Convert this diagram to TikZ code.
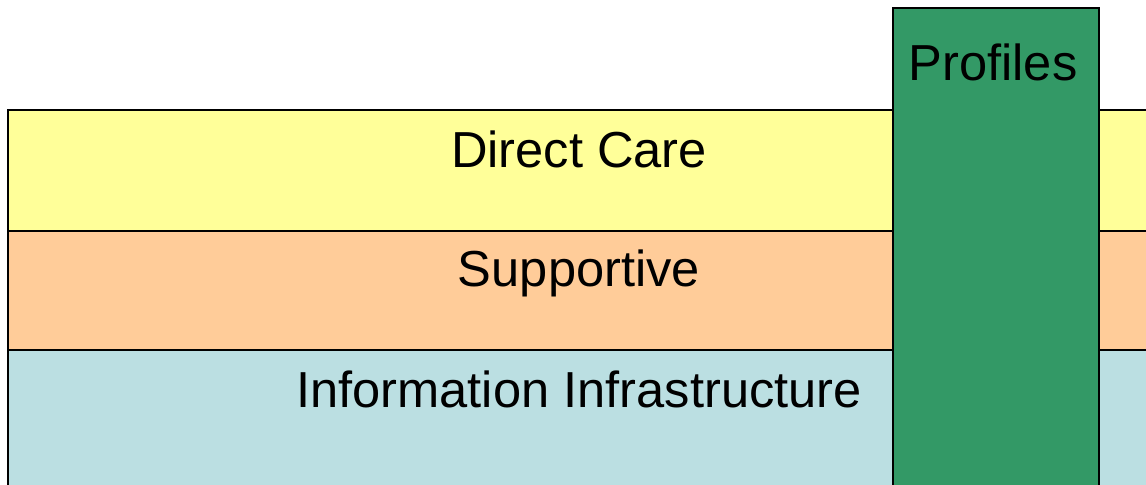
\documentclass[tikz,border=0pt]{standalone}
\usepackage{fontspec}
\setmainfont{Liberation Sans}
\definecolor{careyellow}{HTML}{FFFF99}
\definecolor{supportorange}{HTML}{FFCC99}
\definecolor{infrablue}{HTML}{BBDFE2}
\definecolor{profilegreen}{HTML}{339966}
\begin{document}
\begin{tikzpicture}[x=0.025cm,y=-0.025cm,
  band/.style={draw=black,line width=1pt},
  label/.style={anchor=base,inner sep=0pt,font=\fontsize{36}{43}\selectfont}]
\useasboundingbox (0,0) rectangle (1146,485);
\clip (0,0) rectangle (1146,485);
%Layers
\draw[band,fill=careyellow] (8,110) rectangle (1160,231);
\draw[band,fill=supportorange] (8,231) rectangle (1160,350);
\draw[band,fill=infrablue] (8,350) rectangle (1160,500);
\node[label] (care) at (579,168) {Direct Care};
\node[label] (supp) at (579,287) {Supportive};
\node[label] (infra) at (579,407) {Information Infrastructure};
%Profiles column
\draw[band,fill=profilegreen] (893,8) rectangle (1099,500);
\node[label] (prof) at (993,81) {Profiles};
\end{tikzpicture}
\end{document}
